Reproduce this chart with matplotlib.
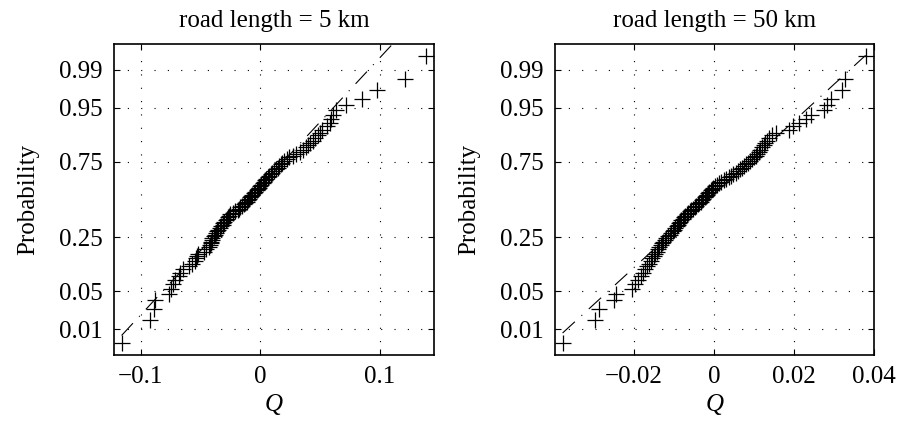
import numpy as np
import matplotlib.pyplot as plt
from statistics import NormalDist

# sorted sample values (100 each)
q_5km = [
    -0.1160, -0.0922, -0.0890, -0.0880, -0.0765, -0.0750, -0.0730, -0.0710, -0.0680, -0.0670,
    -0.0650, -0.0600, -0.0570, -0.0550, -0.0540, -0.0530, -0.0520, -0.0470, -0.0450, -0.0430,
    -0.0420, -0.0415, -0.0410, -0.0405, -0.0400, -0.0390, -0.0380, -0.0370, -0.0360, -0.0350,
    -0.0340, -0.0325, -0.0315, -0.0310, -0.0300, -0.0290, -0.0280, -0.0270, -0.0260, -0.0250,
    -0.0230, -0.0210, -0.0190, -0.0180, -0.0170, -0.0155, -0.0140, -0.0130, -0.0115, -0.0105,
    -0.0095, -0.0085, -0.0075, -0.0065, -0.0055, -0.0040, -0.0030, -0.0020, -0.0010, 0.0000,
    0.0010, 0.0020, 0.0030, 0.0040, 0.0050, 0.0065, 0.0075, 0.0090, 0.0100, 0.0115,
    0.0130, 0.0145, 0.0160, 0.0170, 0.0180, 0.0200, 0.0220, 0.0240, 0.0270, 0.0300,
    0.0330, 0.0360, 0.0380, 0.0400, 0.0420, 0.0440, 0.0460, 0.0480, 0.0500, 0.0520,
    0.0560, 0.0580, 0.0590, 0.0610, 0.0630, 0.0720, 0.0855, 0.0980, 0.1215, 0.1390,
]
q_50km = [
    -0.0378, -0.0296, -0.0287, -0.0250, -0.0245, -0.0205, -0.0198, -0.0190, -0.0182, -0.0178,
    -0.0172, -0.0168, -0.0162, -0.0158, -0.0154, -0.0150, -0.0146, -0.0142, -0.0139, -0.0136,
    -0.0133, -0.0130, -0.0127, -0.0123, -0.0119, -0.0114, -0.0110, -0.0106, -0.0102, -0.0099,
    -0.0096, -0.0093, -0.0090, -0.0087, -0.0084, -0.0081, -0.0077, -0.0074, -0.0071, -0.0068,
    -0.0064, -0.0060, -0.0056, -0.0052, -0.0048, -0.0044, -0.0040, -0.0036, -0.0032, -0.0029,
    -0.0026, -0.0023, -0.0020, -0.0017, -0.0014, -0.0011, -0.0008, -0.0005, -0.0001, 0.0003,
    0.0008, 0.0013, 0.0019, 0.0025, 0.0031, 0.0037, 0.0043, 0.0049, 0.0055, 0.0061,
    0.0066, 0.0071, 0.0076, 0.0081, 0.0086, 0.0091, 0.0096, 0.0100, 0.0104, 0.0108,
    0.0112, 0.0116, 0.0120, 0.0124, 0.0128, 0.0132, 0.0138, 0.0146, 0.0155, 0.0188,
    0.0197, 0.0213, 0.0230, 0.0243, 0.0276, 0.0282, 0.0292, 0.0321, 0.0328, 0.0379,
]

titles = ['road length = 5 km', 'road length = 50 km']
prob_ticks = [0.01, 0.05, 0.25, 0.75, 0.95, 0.99]
xticks_5km = [-0.1, 0, 0.1]
xticks_50km = [-0.02, 0, 0.02, 0.04]

plt.rcParams['font.family'] = ['Liberation Serif', 'DejaVu Serif']
plt.rcParams['font.size'] = 18

nd = NormalDist()


def normplot(ax, data):
    # MATLAB style normal probability plot: y is the normal quantile
    x = np.sort(np.asarray(data, dtype=float))
    n = len(x)
    z = np.array([nd.inv_cdf((i - 0.5) / n) for i in range(1, n + 1)])
    q1, q3 = np.percentile(x, [25, 75], method='hazen')
    z1, z3 = nd.inv_cdf(0.25), nd.inv_cdf(0.75)
    slope = (z3 - z1) / (q3 - q1)
    dashdot = (0, (15, 8, 1, 8))
    ax.plot([q1, q3], [z1, z3], color='k', lw=0.8)
    ax.plot([x[0], q1], [z1 + slope * (x[0] - q1), z1], color='k', lw=0.8, ls=dashdot)
    ax.plot([q3, x[-1]], [z3, z3 + slope * (x[-1] - q3)], color='k', lw=0.8, ls=dashdot)
    ax.plot(x, z, 'k+', ms=11, mew=0.9, zorder=3)
    pad = 0.025 * (x[-1] - x[0])
    ax.set_xlim(x[0] - pad, x[-1] + pad)
    ax.set_ylim(-2.79, 2.79)


def fmt(v):
    return ('%g' % v).replace('-', '\u2212')


fig = plt.figure(figsize=(9.08, 4.26), dpi=100)
ax1 = fig.add_axes([114 / 908, 71 / 426, 320 / 908, 311 / 426])
ax2 = fig.add_axes([555 / 908, 71 / 426, 319 / 908, 311 / 426])

for ax, data, title, xt in [(ax1, q_5km, titles[0], xticks_5km),
                            (ax2, q_50km, titles[1], xticks_50km)]:
    normplot(ax, data)
    ax.set_xticks(xt)
    ax.set_xticklabels([fmt(v) for v in xt])
    ax.set_yticks([nd.inv_cdf(p) for p in prob_ticks])
    ax.set_yticklabels(['%.2f' % p for p in prob_ticks])
    ax.tick_params(direction='in', length=4, width=0.8, top=True, right=True, pad=8)
    ax.grid(True, color='k', lw=0.8, ls=(0, (1, 11)))
    for s in ax.spines.values():
        s.set_linewidth(1.2)
    ax.set_title(title, fontsize=18, pad=12)
    ax.set_xlabel('Q', fontstyle='italic', labelpad=4)
    ax.set_ylabel('Probability', labelpad=14)

fig.savefig('out.png', dpi=100)
